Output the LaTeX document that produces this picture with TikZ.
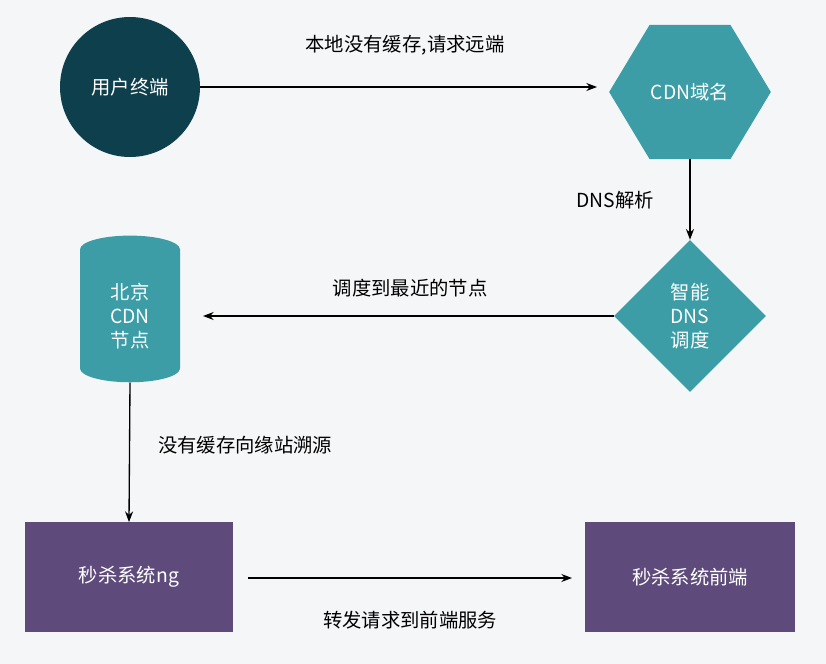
\documentclass[tikz,border=0pt]{standalone}
\usepackage{fontspec}
\setmainfont{Noto Sans CJK SC}
\usetikzlibrary{shapes.geometric,arrows.meta}
\definecolor{bg}{HTML}{F5F6F8}
\definecolor{dark}{HTML}{0E3F4C}
\definecolor{teal}{HTML}{3C9DA6}
\definecolor{purp}{HTML}{5F4B7B}
\begin{document}
\begin{tikzpicture}[x=0.75pt,y=-0.75pt,
  txt/.style={text=white,font=\fontsize{14.5}{18}\selectfont,align=center},
  lab/.style={font=\fontsize{14.5}{17}\selectfont,text=black},
  arr/.style={-{Stealth[length=8pt,width=6pt]},line width=1pt}]
\fill[bg] (0,0) rectangle (826,664);
\useasboundingbox (0,0) rectangle (826,664);
\node[circle,fill=dark,minimum size=105pt,txt] (user) at (130,87) {用户终端};
\node[regular polygon,regular polygon sides=6,fill=teal,minimum size=125pt,inner sep=0pt,xscale=0.97,yscale=0.93] (cdn) at (690,92) {};
\node[txt] at (cdn) {CDN域名};
\node[diamond,fill=teal,minimum width=114pt,minimum height=114pt,inner sep=0pt] (dns) at (690,316) {};
\node[txt] at (dns) {智能\\DNS\\调度};
\node[cylinder,shape border rotate=90,fill=teal,minimum width=75pt,minimum height=110pt,aspect=0.7,inner sep=0pt,txt] (bj) at (130,316) {北京\\CDN\\节点};
\node[rectangle,fill=purp,minimum width=156pt,minimum height=82pt,txt] (ng) at (129,577) {秒杀系统ng};
\node[rectangle,fill=purp,minimum width=158pt,minimum height=82pt,txt] (fe) at (690,577) {秒杀系统前端};
\coordinate (a1) at (200,87); \coordinate (a2) at (597,87);
\draw[arr] (a1) -- (a2);
\node[lab] at (405,45) {本地没有缓存,请求远端};
\draw[arr] (cdn.south) -- (dns.north);
\node[lab] at (615,200) {DNS解析};
\coordinate (b2) at (203,316);
\draw[arr] (dns.west) -- (b2);
\node[lab] at (410,288) {调度到最近的节点};
\draw[arr] (bj.bottom) -- (ng.north);
\node[lab] at (245,445) {没有缓存向缘站溯源};
\coordinate (c1) at (248,578); \coordinate (c2) at (572,578);
\draw[arr] (c1) -- (c2);
\node[lab] at (410,620) {转发请求到前端服务};
\end{tikzpicture}
\end{document}
